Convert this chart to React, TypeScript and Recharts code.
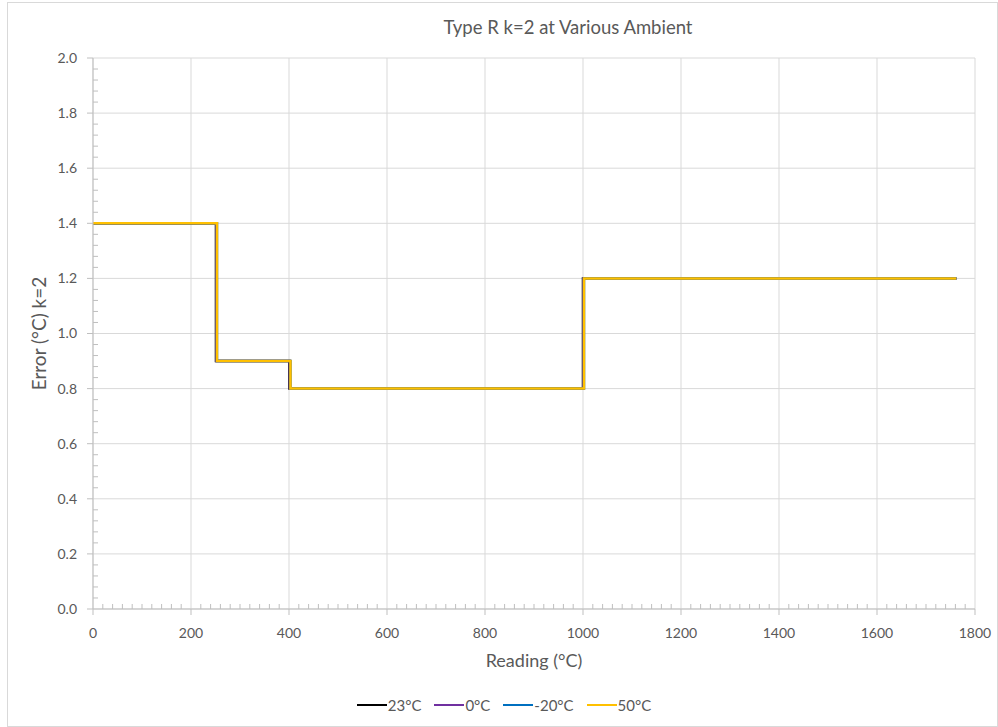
import React from 'react';
import { LineChart, Line, XAxis, YAxis, CartesianGrid, Legend } from 'recharts';

// ambient temperatures and their colours
const seriesNames = ['23°C', '0°C', '-20°C', '50°C'];
const seriesColors = ['#000000', '#7030A0', '#0070C0', '#FFC000'];

// reading (°C) at each corner of the step curve, per ambient
const reading23 = [0, 251, 251, 401, 401, 1000, 1000, 1762];
const reading0 = [0, 252, 252, 402, 402, 1001, 1001, 1762];
const readingMinus20 = [0, 253, 253, 403, 403, 1002, 1002, 1762];
const reading50 = [0, 253, 253, 403, 403, 1002, 1002, 1762];

// error (°C) k=2 at those corners
const error23 = [1.4, 1.4, 0.9, 0.9, 0.8, 0.8, 1.2, 1.2];
const error0 = [1.4, 1.4, 0.9, 0.9, 0.8, 0.8, 1.2, 1.2];
const errorMinus20 = [1.4, 1.4, 0.9, 0.9, 0.8, 0.8, 1.2, 1.2];
const error50 = [1.4, 1.4, 0.9, 0.9, 0.8, 0.8, 1.2, 1.2];

// axis ticks
const xMajor = [0, 200, 400, 600, 800, 1000, 1200, 1400, 1600, 1800];
const xMinor = Array.from({ length: 91 }, (_, i) => i * 20);
const yMajor = [0, 0.2, 0.4, 0.6, 0.8, 1.0, 1.2, 1.4, 1.6, 1.8, 2.0];
const yMinor = Array.from({ length: 51 }, (_, i) => (i * 4) / 100);

const FONT = 'Lato, "Open Sans", sans-serif';
const TEXT = '#595959';
const AXIS = '#bfbfbf';
const GRID = '#d9d9d9';

const toPoints = (xs: number[], ys: number[]) => xs.map((x, i) => ({ x, y: ys[i] }));

const series = [
  toPoints(reading23, error23),
  toPoints(reading0, error0),
  toPoints(readingMinus20, errorMinus20),
  toPoints(reading50, error50),
];

const isMajorX = (v: number) => xMajor.includes(v);
const isMajorY = (v: number) => yMajor.some((m) => Math.abs(m - v) < 1e-6);

const XTick = (props: any) => {
  const { x, y, payload } = props;
  const v = payload.value;
  if (isMajorX(v)) {
    return (
      <g>
        <line x1={x} x2={x} y1={y} y2={y + 6} stroke={AXIS} />
        <text x={x} y={y + 24} dy="0.35em" textAnchor="middle" fill={TEXT} fontSize={14} fontFamily={FONT}>
          {v}
        </text>
      </g>
    );
  }
  return <line x1={x} x2={x} y1={y - 5} y2={y} stroke={AXIS} />;
};

const YTick = (props: any) => {
  const { x, y, payload } = props;
  const v = payload.value;
  if (isMajorY(v)) {
    return (
      <g>
        <line x1={x - 6} x2={x} y1={y} y2={y} stroke={AXIS} />
        <text x={x - 16} y={y} dy="0.35em" textAnchor="end" fill={TEXT} fontSize={14} fontFamily={FONT}>
          {v.toFixed(1)}
        </text>
      </g>
    );
  }
  return <line x1={x} x2={x + 5} y1={y} y2={y} stroke={AXIS} />;
};

const XTitle = (props: any) => {
  const vb = props.viewBox || { x: 0, y: 0, width: 0, height: 0 };
  return (
    <text x={vb.x + vb.width / 2} y={vb.y + 52} dy="0.35em" textAnchor="middle" fill={TEXT} fontSize={18} fontFamily={FONT}>
      Reading (°C)
    </text>
  );
};

const YTitle = (props: any) => {
  const vb = props.viewBox || { x: 0, y: 0, width: 0, height: 0 };
  const cx = vb.x + 3;
  const cy = vb.y + vb.height / 2;
  return (
    <text x={cx} y={cy} transform={`rotate(-90 ${cx} ${cy})`} textAnchor="middle" fill={TEXT} fontSize={19} fontFamily={FONT}>
      Error (°C) k=2
    </text>
  );
};

const LegendContent = (props: any) => {
  const items = [...(props.payload || [])].sort(
    (a: any, b: any) => seriesNames.indexOf(a.value) - seriesNames.indexOf(b.value)
  );
  return (
    <div
      style={{
        display: 'flex',
        justifyContent: 'center',
        alignItems: 'center',
        height: 20,
        paddingLeft: 16,
        fontFamily: FONT,
        fontSize: 15,
        color: TEXT,
      }}
    >
      {items.map((item: any) => (
        <span key={item.value} style={{ display: 'flex', alignItems: 'center', marginRight: 13 }}>
          <span style={{ display: 'inline-block', width: 30, height: 2, background: item.color, marginRight: 1 }} />
          {item.value}
        </span>
      ))}
    </div>
  );
};

export default function App() {
  return (
    <div
      style={{
        position: 'absolute',
        left: 7,
        top: 2,
        width: 991,
        height: 725,
        border: `1px solid ${GRID}`,
        boxSizing: 'border-box',
        background: '#fff',
      }}
    >
      <div
        style={{
          position: 'absolute',
          left: 360,
          top: 13,
          width: 400,
          textAlign: 'center',
          fontFamily: FONT,
          fontSize: 18.5,
          lineHeight: '22px',
          color: TEXT,
        }}
      >
        Type R k=2 at Various Ambient
      </div>
      <LineChart width={989} height={723} margin={{ top: 55, right: 22, bottom: 67, left: 35 }}>
        <CartesianGrid stroke={GRID} verticalValues={xMajor} horizontalValues={yMajor} />
        <XAxis
          dataKey="x"
          type="number"
          domain={[0, 1800]}
          ticks={xMinor}
          interval={0}
          tickLine={false}
          tickSize={0}
          tickMargin={0}
          height={30}
          stroke={AXIS}
          tick={<XTick />}
          label={<XTitle />}
        />
        <YAxis
          type="number"
          domain={[0, 2]}
          ticks={yMinor}
          interval={0}
          tickLine={false}
          tickSize={0}
          tickMargin={0}
          width={50}
          stroke={AXIS}
          tick={<YTick />}
          label={<YTitle />}
        />
        <Legend
          verticalAlign="bottom"
          content={<LegendContent />}
          wrapperStyle={{ top: 692, left: 0, width: 989, height: 20 }}
        />
        {series.map((pts, i) => (
          <Line
            key={seriesNames[i]}
            data={pts}
            dataKey="y"
            name={seriesNames[i]}
            stroke={seriesColors[i]}
            strokeWidth={2.5}
            dot={false}
            activeDot={false}
            isAnimationActive={false}
          />
        ))}
      </LineChart>
    </div>
  );
}
